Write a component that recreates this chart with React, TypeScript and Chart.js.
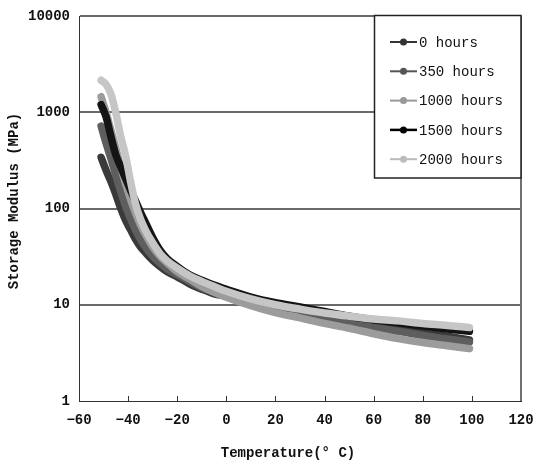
import React, { useEffect, useRef } from 'react';
import { Chart, registerables } from 'chart.js';
Chart.register(...registerables);

const temperatures = [-51, -49, -47, -45, -43, -41, -39, -37, -35, -33, -30, -27, -24, -20, -15, -10, -5, 0, 10, 20, 30, 40, 50, 60, 70, 80, 90, 99];
const hours0 = [340, 250, 190, 140, 100, 75, 60, 48, 40, 35, 29, 25, 22, 19.5, 16.5, 14.5, 13, 12.3, 10.8, 9.6, 8.4, 7.5, 6.7, 6.1, 5.6, 5.1, 4.7, 4.3];
const hours350 = [720, 480, 330, 220, 150, 105, 78, 60, 48, 40, 32, 27, 23.5, 20.5, 17.5, 15, 13.5, 12.5, 10.5, 9.2, 8.2, 7.3, 6.5, 5.8, 5.3, 4.8, 4.4, 4.1];
const hours1000 = [1450, 1000, 650, 420, 270, 180, 125, 90, 68, 54, 40, 32, 27, 22, 18.5, 15.5, 13.5, 12, 9.8, 8.3, 7.3, 6.4, 5.7, 5.0, 4.45, 4.05, 3.75, 3.5];
const hours1500 = [1200, 900, 560, 360, 270, 205, 155, 120, 92, 72, 50, 37, 30, 25, 20.5, 18, 16, 14.5, 12, 10.5, 9.5, 8.5, 7.6, 7.0, 6.5, 6.0, 5.6, 5.3];
const hours2000 = [2150, 1950, 1550, 980, 560, 350, 190, 112, 78, 60, 44, 34, 28.5, 24, 20, 17.5, 15.5, 13.8, 11.5, 10, 9, 8.2, 7.6, 7.1, 6.8, 6.4, 6.1, 5.8];

const seriesLabels = ['0 hours', '350 hours', '1000 hours', '1500 hours', '2000 hours'];
const seriesValues = [hours0, hours350, hours1000, hours1500, hours2000];
const seriesColors = ['#3a3a3a', '#5e5e5e', '#9c9c9c', '#141414', '#c6c6c6'];
const legendColors = ['#333333', '#555555', '#999999', '#000000', '#bbbbbb'];

const xTickValues = [-60, -40, -20, 0, 20, 40, 60, 80, 100, 120];
const yTickValues = [1, 10, 100, 1000, 10000];
const xTitle = 'Temperature(° C)';
const yTitle = 'Storage Modulus (MPa)';

const MONO = '"Liberation Mono", "DejaVu Sans Mono", monospace';

const customPlugin = {
  id: 'customDecor',
  beforeDatasetsDraw(chart: any) {
    const { ctx, chartArea, scales } = chart;
    const { right, top, bottom } = chartArea;
    ctx.save();
    ctx.strokeStyle = '#707070';
    ctx.lineWidth = 2;
    ctx.beginPath();
    ctx.moveTo(right, top);
    ctx.lineTo(right, bottom);
    ctx.stroke();
    ctx.strokeStyle = '#333333';
    ctx.lineWidth = 1;
    ctx.beginPath();
    for (const v of xTickValues) {
      if (v === -60 || v === 120) continue;
      const px = Math.round(scales.x.getPixelForValue(v)) + 0.5;
      ctx.moveTo(px, bottom);
      ctx.lineTo(px, bottom - 5);
    }
    ctx.stroke();
    ctx.restore();
  },
  afterDatasetsDraw(chart: any) {
    const { ctx, chartArea } = chart;
    const boxLeft = 374.5;
    const boxTop = 15.5;
    const boxRight = chartArea.right;
    const boxBottom = 178;
    ctx.save();
    ctx.fillStyle = '#ffffff';
    ctx.fillRect(boxLeft, boxTop, boxRight - boxLeft, boxBottom - boxTop);
    ctx.strokeStyle = '#222222';
    ctx.lineWidth = 1.5;
    ctx.strokeRect(boxLeft, boxTop, boxRight - boxLeft, boxBottom - boxTop);
    ctx.font = `14px ${MONO}`;
    ctx.textBaseline = 'middle';
    ctx.textAlign = 'left';
    seriesLabels.forEach((label, i) => {
      const y = 42 + i * 29.3;
      ctx.strokeStyle = legendColors[i];
      ctx.lineWidth = i === 3 ? 2.5 : 2;
      ctx.beginPath();
      ctx.moveTo(390, y);
      ctx.lineTo(417, y);
      ctx.stroke();
      ctx.fillStyle = legendColors[i];
      ctx.beginPath();
      ctx.arc(403.5, y, 3.5, 0, Math.PI * 2);
      ctx.fill();
      ctx.fillStyle = '#111111';
      ctx.fillText(label, 419, y + 1);
    });
    ctx.restore();
  },
  afterDraw(chart: any) {
    const { ctx } = chart;
    ctx.save();
    ctx.fillStyle = '#111111';
    ctx.font = `bold 14px ${MONO}`;
    ctx.textAlign = 'center';
    ctx.textBaseline = 'middle';
    ctx.fillText(xTitle, 288, 453);
    ctx.translate(14, 201);
    ctx.rotate(-Math.PI / 2);
    ctx.fillText(yTitle, 0, 0);
    ctx.restore();
  },
};

export default function App() {
  const canvasRef = useRef<HTMLCanvasElement | null>(null);

  useEffect(() => {
    if (!canvasRef.current) return;
    const datasets = seriesLabels.map((label, i) => ({
      label,
      data: temperatures.map((t, j) => ({ x: t, y: seriesValues[i][j] })),
      borderColor: seriesColors[i],
      backgroundColor: seriesColors[i],
      borderWidth: 7.5,
      pointRadius: 0,
      borderCapStyle: 'round' as const,
      borderJoinStyle: 'round' as const,
      cubicInterpolationMode: 'monotone' as const,
      order: 5 - i,
    }));
    const chart = new Chart(canvasRef.current, {
      type: 'line',
      data: { datasets },
      options: {
        animation: false,
        responsive: false,
        devicePixelRatio: 1,
        layout: { padding: { top: 16, right: 15, left: 0, bottom: 0 } },
        plugins: { legend: { display: false }, tooltip: { enabled: false }, title: { display: false } },
        scales: {
          x: {
            type: 'linear',
            min: -60,
            max: 120,
            afterBuildTicks: (scale: any) => {
              scale.ticks = xTickValues.map((v) => ({ value: v }));
            },
            afterFit: (scale: any) => {
              scale.height = 63;
              scale.paddingLeft = 0;
              scale.paddingRight = 0;
            },
            grid: { display: false, drawTicks: false },
            border: { display: true, color: '#333333', width: 1 },
            ticks: {
              padding: 11,
              color: '#111111',
              font: { family: MONO, size: 14, weight: 'bold' },
              maxRotation: 0,
              autoSkip: false,
              callback: (v: any) => (Number(v) < 0 ? '−' + Math.abs(Number(v)) : String(v)),
            },
          },
          y: {
            type: 'logarithmic',
            min: 1,
            max: 10000,
            afterBuildTicks: (scale: any) => {
              scale.ticks = yTickValues.map((v) => ({ value: v }));
            },
            afterFit: (scale: any) => {
              scale.width = 79;
              scale.paddingTop = 0;
              scale.paddingBottom = 0;
            },
            grid: {
              drawTicks: false,
              lineWidth: 2,
              color: (c: any) => (c.tick && c.tick.value === 1 ? 'rgba(0,0,0,0)' : '#6a6a6a'),
            },
            border: { display: true, color: '#333333', width: 1 },
            ticks: {
              padding: 9,
              color: '#111111',
              font: { family: MONO, size: 14, weight: 'bold' },
              autoSkip: false,
              callback: (v: any) => String(v),
            },
          },
        },
      },
      plugins: [customPlugin],
    } as any);
    return () => chart.destroy();
  }, []);

  return (
    <div style={{ position: 'absolute', left: 0, top: 0, width: 536, height: 464, background: '#fff' }}>
      <canvas ref={canvasRef} width={536} height={464} style={{ width: 536, height: 464 }} />
    </div>
  );
}
